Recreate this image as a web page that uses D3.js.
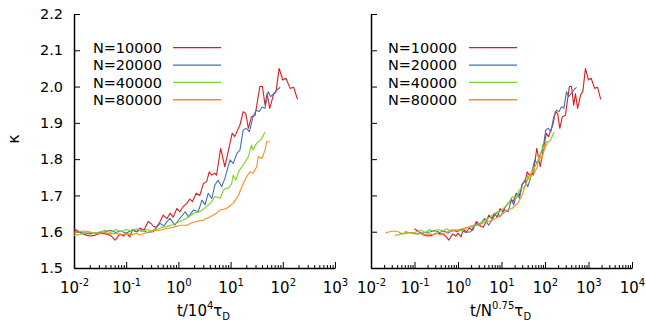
<!DOCTYPE html>
<html><head><meta charset="utf-8">
<script src="https://cdn.jsdelivr.net/npm/d3@7"></script>
<style>body{margin:0;background:#fff}svg{display:block}text{font-family:"DejaVu Sans",sans-serif}</style>
</head><body><svg id="c" width="646" height="329"></svg>
<script>
const seriesN = [10000, 20000, 40000, 80000];
const seriesLabels = ["N=10000", "N=20000", "N=40000", "N=80000"];
const seriesColors = ["#d81f1f", "#4472b2", "#78d42a", "#ff8c1e"];
const exponentScaling = 0.75;

// t/10^4 tau_D and kappa
const t10000 = [0.01,0.0126,0.0158,0.02,0.0251,0.0316,0.0398,0.0501,0.0617,0.0759,0.0891,0.1,0.1175,0.1318,0.158,0.182,0.219,0.263,0.302,0.331,0.380,0.447,0.513,0.603,0.692,0.794,0.933,1.07,1.23,1.45,1.66,1.86,2.19,2.57,3.02,3.47,3.89,4.37,5.01,5.37,6.46,7.76,9.12,10.7,12.0,15.1,17.4,19.5,21.9,25.1,29.5,36.3,40.7,45.7,50.1,56.2,66.1,74.1,85.1,100,115,138,162,191];
const k10000 = [1.608,1.600,1.592,1.588,1.590,1.596,1.594,1.590,1.577,1.594,1.588,1.596,1.586,1.606,1.600,1.610,1.604,1.628,1.622,1.615,1.612,1.628,1.646,1.636,1.651,1.640,1.664,1.655,1.669,1.678,1.690,1.683,1.706,1.700,1.733,1.738,1.765,1.756,1.761,1.756,1.830,1.779,1.825,1.871,1.862,1.894,1.931,1.926,1.885,1.917,1.921,2.000,2.001,1.949,1.981,1.940,1.977,1.986,2.050,2.018,2.023,1.995,1.998,1.965];

const t20000 = [0.01,0.0126,0.0158,0.02,0.0251,0.0316,0.0398,0.0501,0.0631,0.0794,0.1,0.126,0.158,0.2,0.251,0.331,0.380,0.447,0.525,0.603,0.692,0.851,1.07,1.35,1.55,1.95,2.40,2.82,3.24,3.72,4.37,5.01,5.75,6.76,7.76,9.77,11.2,13.2,15.1,17.4,20.0,22.9,26.9,30.9,35.5,39.8,45.7,52.5,58.9,67.6,79.4,89.1];
const k20000 = [1.600,1.598,1.596,1.594,1.596,1.598,1.600,1.604,1.598,1.602,1.596,1.604,1.600,1.606,1.598,1.600,1.612,1.623,1.616,1.628,1.637,1.618,1.637,1.655,1.641,1.660,1.655,1.687,1.674,1.706,1.692,1.729,1.742,1.724,1.747,1.798,1.788,1.816,1.825,1.880,1.885,1.876,1.917,1.935,1.931,1.944,1.940,1.986,1.972,1.981,1.992,1.998];

const t40000 = [0.01,0.0126,0.0158,0.02,0.0251,0.0316,0.0398,0.0501,0.0631,0.0794,0.1,0.126,0.158,0.2,0.251,0.316,0.380,0.479,0.603,0.794,1.07,1.45,1.95,2.57,3.47,4.37,5.01,6.31,7.24,8.32,9.12,10.5,11.2,12.6,14.1,17.4,21.9,25.1,26.9,31.6,38.0,45.7];
const k40000 = [1.590,1.592,1.596,1.598,1.596,1.600,1.604,1.598,1.606,1.600,1.606,1.602,1.608,1.600,1.606,1.602,1.605,1.612,1.614,1.620,1.628,1.637,1.651,1.655,1.669,1.683,1.697,1.692,1.715,1.720,1.720,1.733,1.756,1.742,1.765,1.784,1.807,1.839,1.825,1.844,1.853,1.875];

const t80000 = [0.01,0.0126,0.0158,0.02,0.0251,0.0316,0.0398,0.0501,0.0631,0.0759,0.1,0.126,0.158,0.182,0.251,0.331,0.447,0.603,0.794,1.07,1.45,1.78,2.24,3.02,4.07,5.37,6.31,8.32,11.2,14.1,17.4,20.4,23.4,26.9,31.6,33.9,39.8,45.7,49.0,56.2];
const k80000 = [1.596,1.600,1.602,1.600,1.594,1.596,1.598,1.594,1.596,1.591,1.594,1.592,1.596,1.591,1.598,1.605,1.604,1.609,1.612,1.618,1.618,1.624,1.628,1.632,1.641,1.651,1.660,1.664,1.678,1.700,1.733,1.752,1.765,1.761,1.779,1.807,1.802,1.825,1.848,1.848];

const yTicks = [1.5, 1.6, 1.7, 1.8, 1.9, 2.0, 2.1, 2.2];
const leftDecades = [-2, -1, 0, 1, 2, 3];
const rightDecades = [-2, -1, 0, 1, 2, 3, 4];

const tSeries = [t10000, t20000, t40000, t80000];
const kSeries = [k10000, k20000, k40000, k80000];

const svg = d3.select("#c");
const y = d3.scaleLinear().domain([1.5, 2.2]).range([268, 14]);
const panels = [
  {x: d3.scaleLog().domain([0.01, 1000]).range([74, 335]), decades: leftDecades, yLabels: true,
   tx: (t, n) => t, title: ["t/10", "4"], legendTextX: 162, legendLine: [173, 221]},
  {x: d3.scaleLog().domain([0.01, 10000]).range([371, 632]), decades: rightDecades, yLabels: false,
   tx: (t, n) => t * 1e4 / Math.pow(n, exponentScaling), title: ["t/N", "0.75"], legendTextX: 457, legendLine: [469, 517]}
];

panels.forEach(p => {
  const g = svg.append("g");
  const x0 = p.x.range()[0];
  // minor x ticks
  const minors = [];
  p.decades.slice(0, -1).forEach(d => { for (let m = 2; m <= 9; m++) minors.push(m * Math.pow(10, d)); });
  g.append("g").attr("transform", "translate(0,268)")
    .call(d3.axisBottom(p.x).tickValues(minors).tickSizeInner(-3).tickSizeOuter(0).tickFormat(""))
    .call(a => a.select(".domain").remove())
    .call(a => a.selectAll("line").attr("stroke", "#000").attr("stroke-width", 1));
  // major x ticks
  const xa = g.append("g").attr("transform", "translate(0,268)")
    .call(d3.axisBottom(p.x).tickValues(p.decades.map(d => Math.pow(10, d))).tickSizeInner(-6).tickSizeOuter(0).tickPadding(14));
  xa.select(".domain").attr("stroke", "#000").attr("stroke-width", 1.5);
  xa.selectAll("line").attr("stroke", "#000").attr("stroke-width", 1);
  xa.selectAll(".tick text").attr("font-size", 15).attr("fill", "#000").text(null)
    .each(function(d) {
      const e = Math.round(Math.log10(d));
      const t = d3.select(this);
      t.append("tspan").text("10");
      t.append("tspan").attr("font-size", 10).attr("dy", -7).text(String(e));
    });
  // y axis
  const ya = g.append("g").attr("transform", `translate(${x0},0)`)
    .call(d3.axisLeft(y).tickValues(yTicks).tickSizeInner(-6).tickSizeOuter(0).tickPadding(11)
      .tickFormat(p.yLabels ? d3.format(".1f") : ""));
  ya.select(".domain").attr("stroke", "#000").attr("stroke-width", 1.5);
  ya.selectAll("line").attr("stroke", "#000").attr("stroke-width", 1);
  ya.selectAll("text").attr("font-size", 14.5).attr("fill", "#000").attr("font-family", '"DejaVu Sans",sans-serif');

  // curves
  const line = d3.line();
  seriesN.forEach((n, i) => {
    const pts = tSeries[i].map((t, j) => [p.x(p.tx(t, n)), y(kSeries[i][j])]);
    g.append("path").attr("d", line(pts)).attr("fill", "none")
      .attr("stroke", seriesColors[i]).attr("stroke-width", 1.1).attr("stroke-linejoin", "round");
  });

  // legend
  seriesLabels.forEach((lab, i) => {
    const ly = 47.7 + i * 17.35;
    g.append("text").attr("x", p.legendTextX).attr("y", ly + 5.3).attr("text-anchor", "end")
      .attr("font-size", 14.5).attr("fill", "#000").text(lab);
    g.append("line").attr("x1", p.legendLine[0]).attr("x2", p.legendLine[1]).attr("y1", ly).attr("y2", ly)
      .attr("stroke", seriesColors[i]).attr("stroke-width", 1.3);
  });

  // x title
  const xm = (p.x.range()[0] + p.x.range()[1]) / 2;
  const tt = g.append("text").attr("x", xm - 1).attr("y", 316).attr("text-anchor", "middle")
    .attr("font-size", 15).attr("fill", "#000");
  tt.append("tspan").text(p.title[0]);
  tt.append("tspan").attr("font-size", 10).attr("dy", -7).text(p.title[1]);
  tt.append("tspan").attr("dy", 7).text("τ");
  tt.append("tspan").attr("font-size", 10).attr("dy", 4).text("D");
});

svg.append("text").attr("transform", "translate(19,139) rotate(-90)").attr("text-anchor", "middle")
  .attr("font-size", 16).attr("fill", "#000").text("κ");
</script></body></html>
